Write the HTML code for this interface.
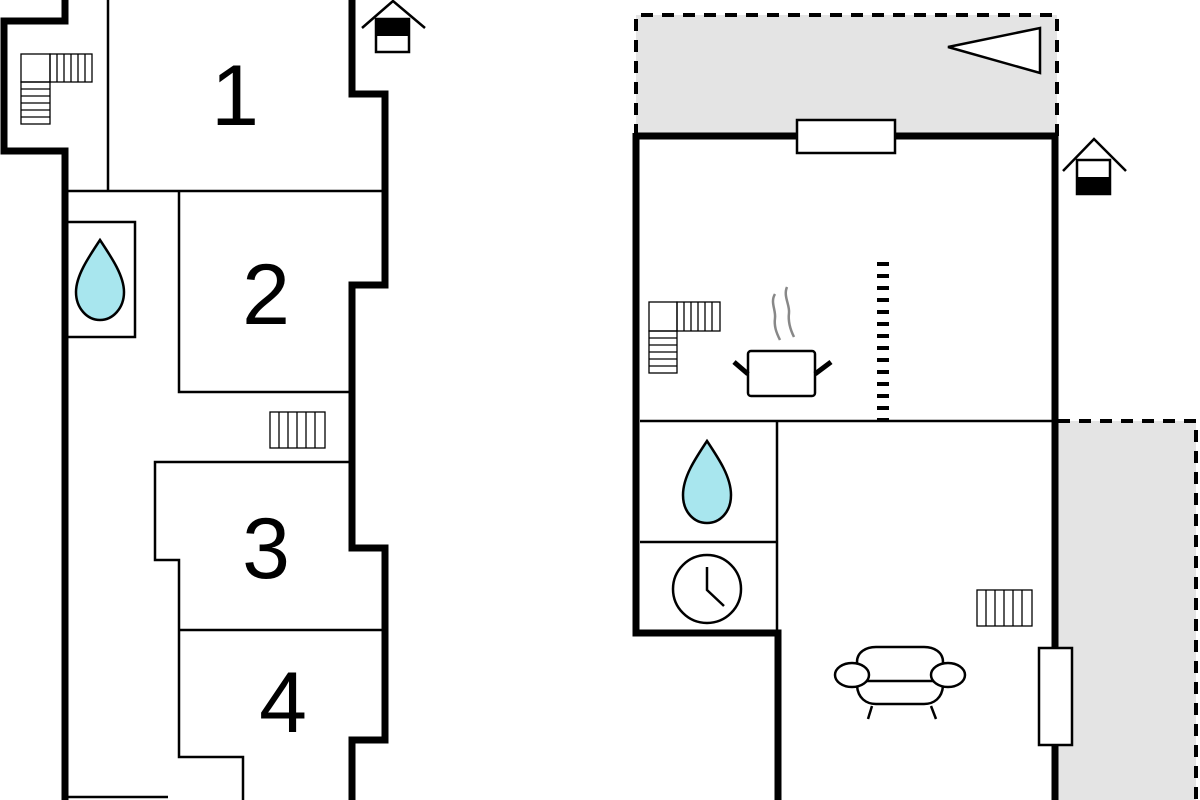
<!DOCTYPE html>
<html><head><meta charset="utf-8"><style>html,body{margin:0;padding:0;background:#fff}svg{display:block}</style></head>
<body>
<svg width="1200" height="800" viewBox="0 0 1200 800" xmlns="http://www.w3.org/2000/svg">
<rect width="1200" height="800" fill="#fff"/>
<!-- LEFT PLAN -->
<g fill="none" stroke="#000" stroke-linejoin="miter">
<polyline points="65,0 65,21 4,21 4,151 65,151 65,800" stroke-width="7"/>
<polyline points="352,0 352,94 385,94 385,285 352,285 352,548 385,548 385,740 352,740 352,800" stroke-width="7"/>
<g stroke-width="2.5">
<line x1="108" y1="0" x2="108" y2="191"/>
<line x1="65" y1="191" x2="385" y2="191"/>
<polyline points="179,191 179,392 352,392"/>
<rect x="66" y="222" width="69" height="115"/>
<polyline points="352,462 155,462 155,560 179,560 179,757 243,757 243,800"/>
<line x1="179" y1="630" x2="385" y2="630"/>
<line x1="66" y1="797" x2="168" y2="797"/>
</g>
<!-- stairs left -->
<g stroke-width="1.3">
<rect x="21" y="54" width="29" height="28"/>
<rect x="50" y="54" width="42" height="28"/>
<line x1="57" y1="54" x2="57" y2="82"/><line x1="64" y1="54" x2="64" y2="82"/><line x1="71" y1="54" x2="71" y2="82"/><line x1="78" y1="54" x2="78" y2="82"/><line x1="85" y1="54" x2="85" y2="82"/>
<rect x="21" y="82" width="29" height="42"/>
<line x1="21" y1="89" x2="50" y2="89"/><line x1="21" y1="96" x2="50" y2="96"/><line x1="21" y1="103" x2="50" y2="103"/><line x1="21" y1="110" x2="50" y2="110"/><line x1="21" y1="117" x2="50" y2="117"/>
<!-- radiator corridor -->
<rect x="270" y="412" width="55" height="36"/>
<line x1="279" y1="412" x2="279" y2="448"/><line x1="288" y1="412" x2="288" y2="448"/><line x1="297" y1="412" x2="297" y2="448"/><line x1="306" y1="412" x2="306" y2="448"/><line x1="315" y1="412" x2="315" y2="448"/>
</g>
<!-- house icon left -->
<polyline points="362,28 393,1 425,28" stroke-width="2.5"/>
<rect x="376" y="19" width="33" height="33" stroke-width="2.5"/>
</g>
<rect x="376" y="19" width="33" height="17" fill="#000"/>
<path d="M100,240 C112,258 124,276 124,292 C124,308 113,320 100,320 C87,320 76,308 76,292 C76,276 88,258 100,240 Z" fill="#a8e6ee" stroke="#000" stroke-width="2.5"/>
<g font-family="Liberation Sans, sans-serif" font-size="86" fill="#000" text-anchor="middle">
<text x="235" y="125">1</text>
<text x="266" y="324">2</text>
<text x="266" y="578">3</text>
<text x="283" y="732">4</text>
</g>
<!-- RIGHT PLAN -->
<rect x="636" y="15" width="421" height="121" fill="#e4e4e4"/>
<rect x="1058" y="421" width="138" height="379" fill="#e4e4e4"/>
<g fill="none" stroke="#000">
<polyline points="636,136 636,15 1057,15 1057,136" stroke-width="4" stroke-dasharray="12,9"/>
<polyline points="1058,421 1196,421 1196,800" stroke-width="4" stroke-dasharray="12,9"/>
<polygon points="948,47 1040,28 1040,73" fill="#fff" stroke-width="2.5"/>
<polyline points="636,136 1055,136" stroke-width="7"/>
<polyline points="636,133 636,633 778,633 778,800" stroke-width="7"/>
<line x1="1055" y1="133" x2="1055" y2="800" stroke-width="7"/>
<g stroke-width="2.5">
<line x1="640" y1="421" x2="1055" y2="421"/>
<line x1="777" y1="421" x2="777" y2="633"/>
<line x1="640" y1="542" x2="777" y2="542"/>
</g>
<line x1="883" y1="262" x2="883" y2="421" stroke-width="12" stroke-dasharray="4,8"/>
<!-- windows -->
<rect x="797" y="120" width="98" height="33" fill="#fff" stroke-width="2.5"/>
<rect x="1039" y="648" width="33" height="97" fill="#fff" stroke-width="2.5"/>
<!-- house icon right -->
<polyline points="1063,171 1094,139 1126,171" stroke-width="2.5"/>
<rect x="1077" y="160" width="33" height="34" stroke-width="2.5"/>
<!-- stairs right -->
<g stroke-width="1.3">
<rect x="649" y="302" width="28" height="29"/>
<rect x="677" y="302" width="43" height="29"/>
<line x1="684" y1="302" x2="684" y2="331"/><line x1="691" y1="302" x2="691" y2="331"/><line x1="698" y1="302" x2="698" y2="331"/><line x1="705" y1="302" x2="705" y2="331"/><line x1="712" y1="302" x2="712" y2="331"/>
<rect x="649" y="331" width="28" height="42"/>
<line x1="649" y1="338" x2="677" y2="338"/><line x1="649" y1="345" x2="677" y2="345"/><line x1="649" y1="352" x2="677" y2="352"/><line x1="649" y1="359" x2="677" y2="359"/><line x1="649" y1="366" x2="677" y2="366"/>
<rect x="977" y="590" width="55" height="36"/>
<line x1="986" y1="590" x2="986" y2="626"/><line x1="995" y1="590" x2="995" y2="626"/><line x1="1004" y1="590" x2="1004" y2="626"/><line x1="1013" y1="590" x2="1013" y2="626"/><line x1="1022" y1="590" x2="1022" y2="626"/>
</g>
<!-- pot -->
<rect x="748" y="351" width="67" height="45" rx="3" stroke-width="2.5"/>
<line x1="734" y1="362" x2="748" y2="374" stroke-width="5"/>
<line x1="815" y1="374" x2="831" y2="362" stroke-width="5"/>
<path d="M775,294 C770,302 776,310 775,318 C774,326 776,332 780,340" stroke="#888" stroke-width="2.5"/>
<path d="M787,287 C783,296 790,305 789,313 C788,321 790,329 794,337" stroke="#888" stroke-width="2.5"/>
<!-- clock -->
<circle cx="707" cy="589" r="34" stroke-width="2.5"/>
<polyline points="707,567 707,590 724,606" stroke-width="2.5"/>
<!-- sofa -->
<g stroke-width="2.5">
<path d="M857,669 L857,662 C857,652 866,647 876,647 L924,647 C934,647 943,652 943,662 L943,669"/>
<ellipse cx="852" cy="675" rx="17" ry="12" fill="#fff"/>
<ellipse cx="948" cy="675" rx="17" ry="12" fill="#fff"/>
<line x1="867" y1="681" x2="934" y2="681"/>
<path d="M857,686 C858,698 866,704 876,704 L924,704 C934,704 942,698 943,686"/>
<line x1="872" y1="706" x2="868" y2="719"/>
<line x1="931" y1="706" x2="936" y2="719"/>
</g>
</g>
<rect x="1077" y="177" width="33" height="17" fill="#000"/>
<path d="M707,441 C719,459 731,477 731,495 C731,512 720,523 707,523 C694,523 683,512 683,495 C683,477 695,459 707,441 Z" fill="#a8e6ee" stroke="#000" stroke-width="2.5"/>
</svg>
</body></html>
